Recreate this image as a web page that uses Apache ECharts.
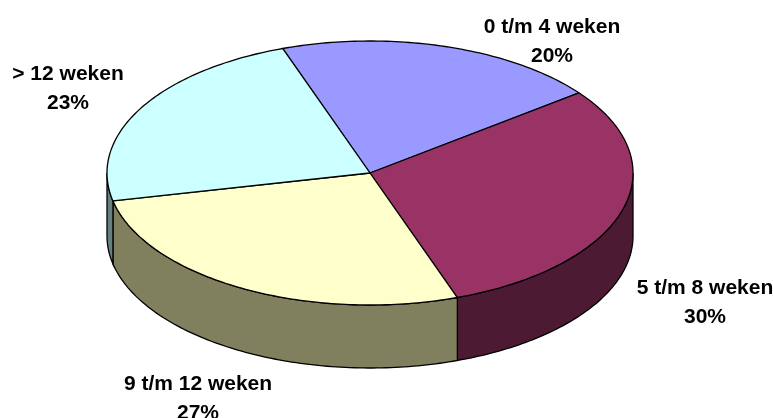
<!DOCTYPE html>
<html>
<head>
<meta charset="utf-8">
<style>
html,body{margin:0;padding:0;background:#fff;}
#chart{width:773px;height:418px;}
</style>
<script src="https://cdn.jsdelivr.net/npm/echarts@6/dist/echarts.min.js"></script>
</head>
<body>
<div id="chart"></div>
<script>
// data
const categories = ['0 t/m 4 weken', '5 t/m 8 weken', '9 t/m 12 weken', '> 12 weken'];
const values = [20, 30, 27, 23];

// styles
const topColors = ['#9999FF', '#993366', '#FFFFCC', '#CCFFFF'];
const wallColors = ['#4D4D80', '#4D1A33', '#80805F', '#668080'];

// label centres, same order as categories
const labelX = [552, 705, 198, 68];
const labelY = [42, 303, 399, 89];

// tilted pie layout
const cx = 370, cy = 173, rx = 263, ry = 132, depth = 63;
const startDeg = 109.4;
const total = values.reduce((a, b) => a + b, 0);

function edge(deg, drop) {
  const r = deg * Math.PI / 180;
  return [cx + rx * Math.cos(r), cy - ry * Math.sin(r) + drop];
}

function arc(from, to, drop) {
  const pts = [];
  const n = Math.max(2, Math.ceil(Math.abs(to - from)));
  for (let i = 0; i <= n; i++) {
    pts.push(edge(from + (to - from) * i / n, drop));
  }
  return pts;
}

function renderSlice(params, api) {
  const i = params.dataIndex;
  const before = values.slice(0, i).reduce((a, b) => a + b, 0);
  const a0 = startDeg - before / total * 360;
  const a1 = a0 - api.value(1) / total * 360;
  const children = [];

  // the wall only shows on the front half of the rim (180..360 deg)
  for (let k = -1; k <= 0; k++) {
    const lo = Math.max(a1, 180 + k * 360);
    const hi = Math.min(a0, 360 + k * 360);
    if (hi > lo) {
      children.push({
        type: 'polygon',
        z2: 1,
        shape: { points: arc(hi, lo, 0).concat(arc(lo, hi, depth)) },
        style: { fill: wallColors[i], stroke: '#000', lineWidth: 1.3 }
      });
    }
  }

  children.push({
    type: 'polygon',
    z2: 2,
    shape: { points: [[cx, cy]].concat(arc(a0, a1, 0)) },
    style: { fill: topColors[i], stroke: '#000', lineWidth: 1.3, lineJoin: 'round' }
  });

  children.push({
    type: 'text',
    z2: 3,
    style: {
      x: labelX[i],
      y: labelY[i],
      text: categories[i] + '\n' + api.value(1) + '%',
      fill: '#000',
      font: 'bold 21px "Liberation Sans", Arial, sans-serif',
      lineHeight: 29,
      align: 'center',
      verticalAlign: 'middle'
    }
  });

  return { type: 'group', children };
}

const chart = echarts.init(document.getElementById('chart'));
chart.setOption({
  animation: false,
  backgroundColor: '#fff',
  series: [{
    type: 'custom',
    coordinateSystem: 'none',
    silent: true,
    renderItem: renderSlice,
    data: values.map((v, i) => [i, v])
  }]
});
window.addEventListener('resize', () => chart.resize());
</script>
</body>
</html>
